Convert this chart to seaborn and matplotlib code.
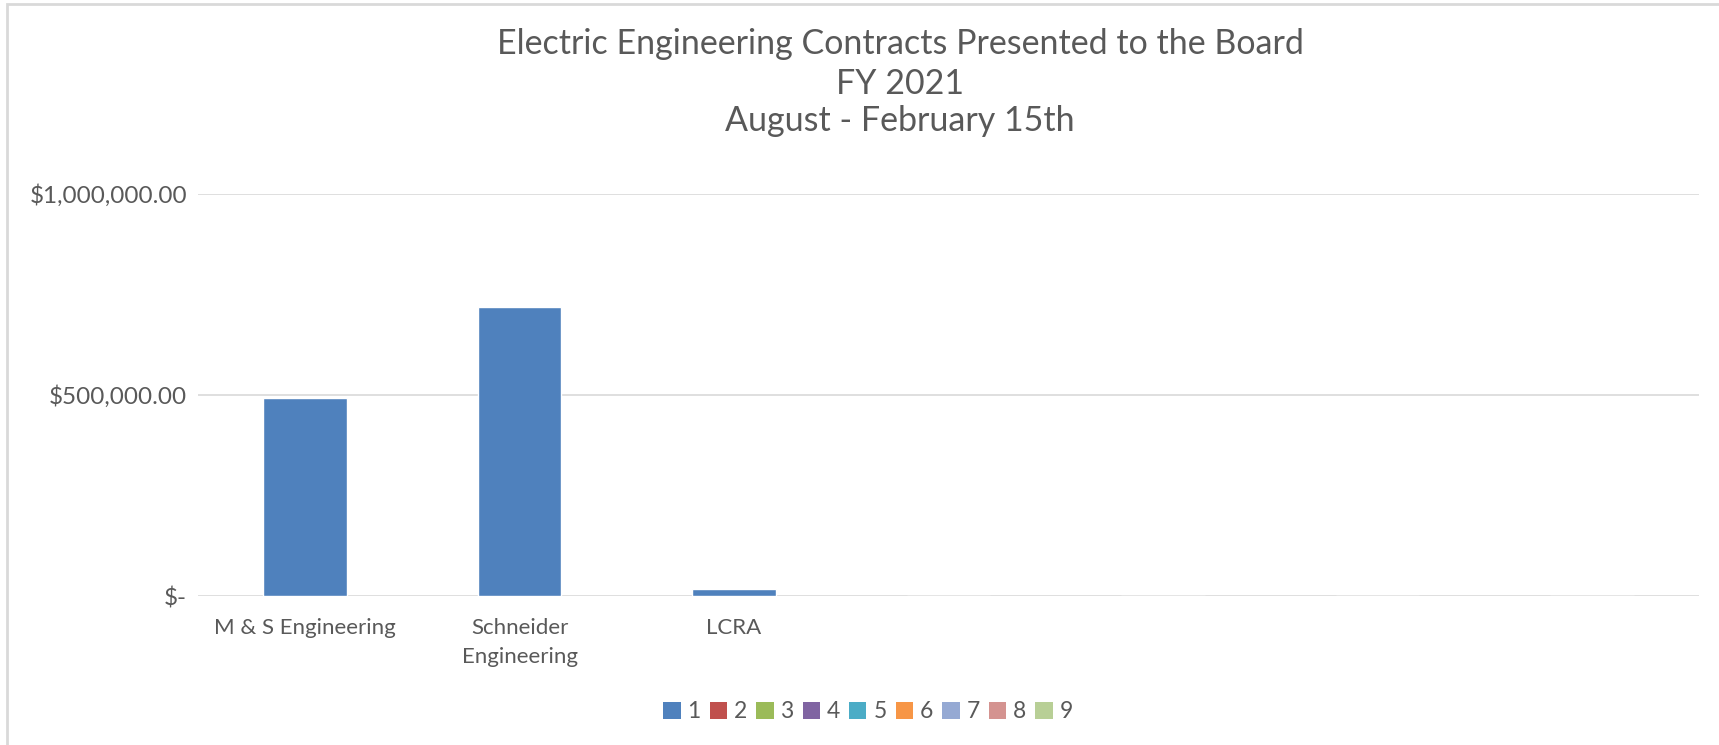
import matplotlib
matplotlib.use("Agg")
import matplotlib.pyplot as plt
from matplotlib.patches import Patch, Rectangle
import seaborn as sns
import pandas as pd

# ---- data ----
categories = ["M & S Engineering", "Schneider\nEngineering", "LCRA", " ", "  ", "   ", "    "]
values = [493000, 718000, 17000, 0, 0, 0, 0]
series_names = ["1", "2", "3", "4", "5", "6", "7", "8", "9"]
series_colors = ["#4F81BD", "#C0504D", "#9BBB59", "#8064A2", "#4BACC6",
                 "#F79646", "#95A9D3", "#D49390", "#B8CF96"]
y_ticks = [0, 500000, 1000000]
y_tick_labels = ["$-", "$500,000.00", "$1,000,000.00"]
title_lines = ["Electric Engineering Contracts Presented to the Board",
               "FY 2021", "August - February 15th"]

sns.set_theme(style="white")
plt.rcParams["font.family"] = ["Lato", "DejaVu Sans"]
TXT = "#595959"
GRID = "#D9D9D9"

fig = plt.figure(figsize=(17.19, 7.45), dpi=100)
ax = fig.add_axes([198 / 1719, 1 - 596 / 745, (1699 - 198) / 1719, (596 - 194) / 745])

df = pd.DataFrame({"cat": categories, "val": values})
sns.barplot(data=df, x="cat", y="val", order=categories, color=series_colors[0],
            saturation=1, width=0.39, ax=ax, errorbar=None)

ax.set_xlim(-0.5, len(categories) - 0.5)
ax.set_ylim(0, 1000000)
ax.set_yticks(y_ticks)
ax.set_yticklabels(y_tick_labels, color=TXT, fontsize=17.5)
ax.set_xticks(range(len(categories)))
ax.set_xticklabels(categories, color=TXT, fontsize=16, linespacing=1.55)
ax.set_xlabel("")
ax.set_ylabel("")
ax.tick_params(axis="both", length=0)
ax.tick_params(axis="y", pad=8)
ax.tick_params(axis="x", pad=16)
for s in ax.spines.values():
    s.set_visible(False)
ax.set_axisbelow(True)
ax.yaxis.grid(True, color=GRID, linewidth=1.2)
ax.xaxis.grid(False)

# title
ys = [44, 84, 121]
for line, y in zip(title_lines, ys):
    fig.text(900 / 1719, 1 - y / 745, line, ha="center", va="center",
             fontsize=24.5, color=TXT)

# legend
handles = [Patch(facecolor=c, edgecolor="none", label=n)
           for n, c in zip(series_names, series_colors)]
fig.legend(handles=handles, loc="center", bbox_to_anchor=(868 / 1719, 1 - 712 / 745),
           ncol=9, frameon=False, fontsize=16.5, handlelength=0.75, handleheight=0.75,
           handletextpad=0.3, columnspacing=0.4, labelcolor=TXT)

# chart area border (partially cropped)
fig.patches.append(Rectangle((7 / 1719, -0.1), 1.2, 1.1 - 4 / 745,
                             transform=fig.transFigure, fill=False,
                             edgecolor=GRID, linewidth=2))

fig.savefig("out.png", dpi=100, facecolor="white")
